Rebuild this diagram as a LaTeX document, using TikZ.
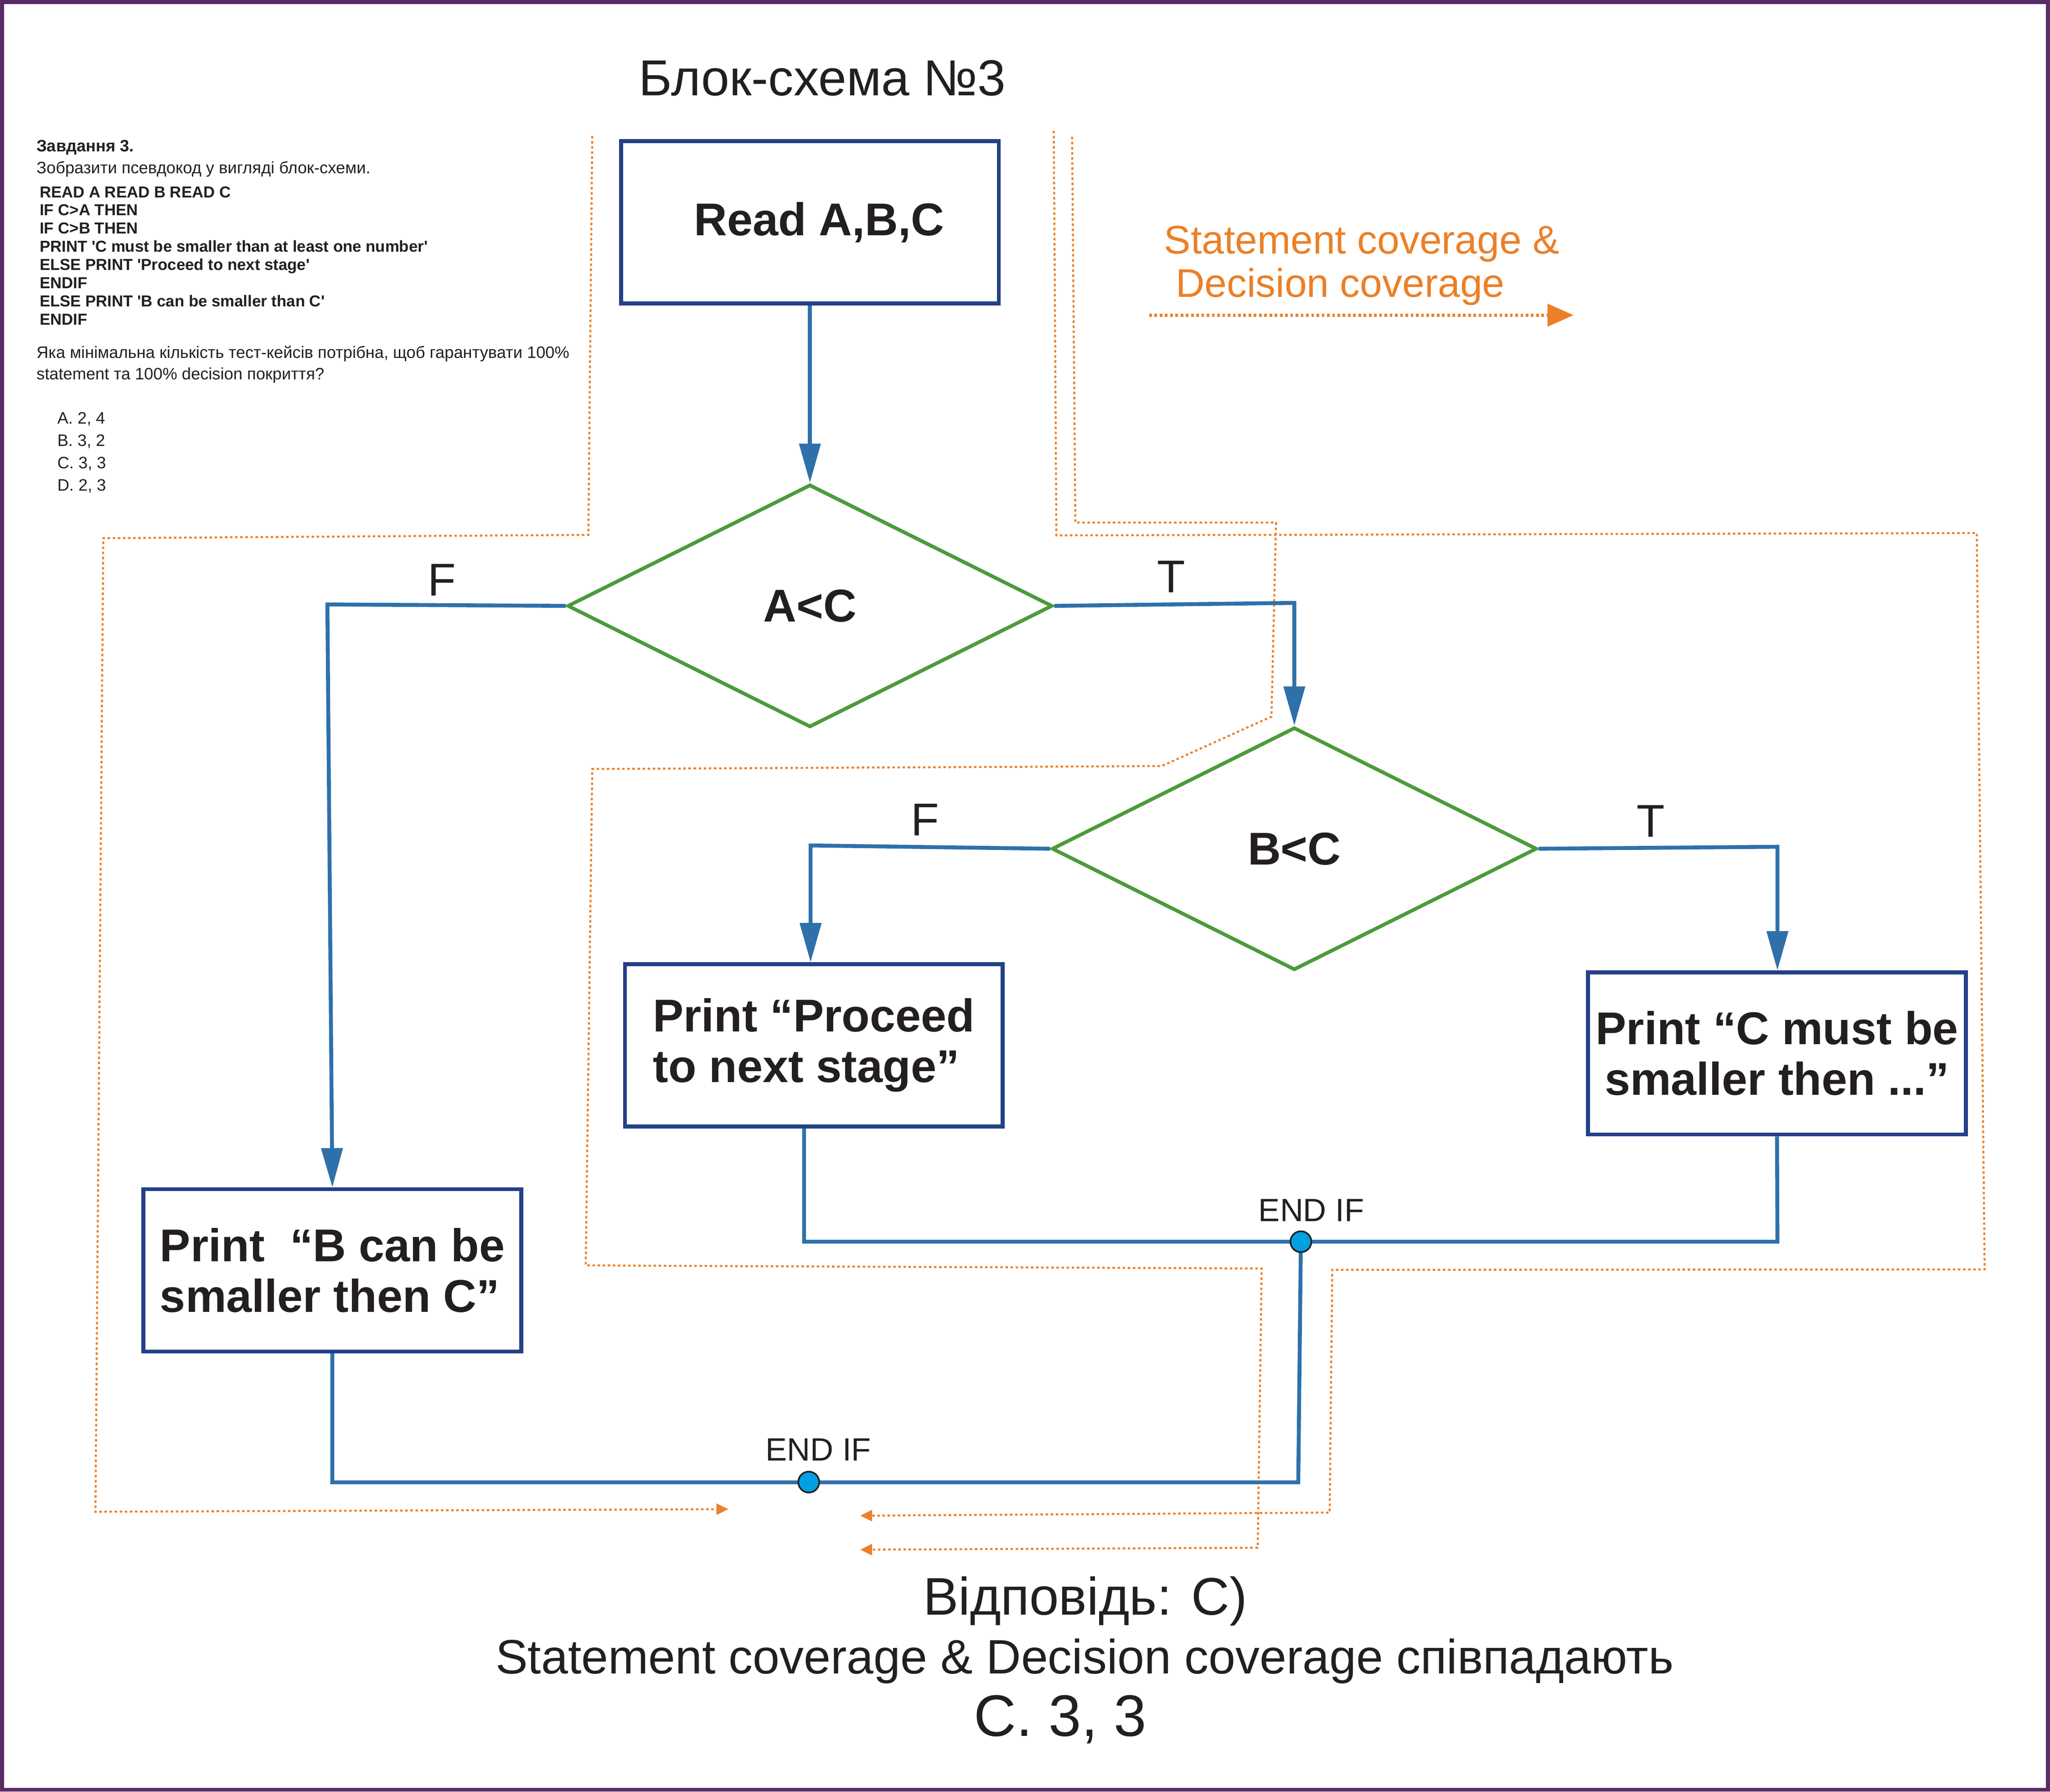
\documentclass[tikz,border=0pt]{standalone}
\usepackage{fontspec}
\setmainfont{Liberation Sans}
\usetikzlibrary{arrows.meta,shapes.geometric}
\definecolor{ink}{RGB}{35,31,32}
\definecolor{flowblue}{RGB}{46,113,170}
\definecolor{boxnavy}{RGB}{36,64,136}
\definecolor{decgreen}{RGB}{76,155,58}
\definecolor{traceorange}{RGB}{235,128,40}
\definecolor{framepurple}{RGB}{89,44,104}
\definecolor{dotcyan}{RGB}{0,160,226}
\newcommand{\fsize}[2]{\fontsize{#1}{#2}\selectfont}
\tikzset{
  box/.style={draw=boxnavy, line width=0.6mm, rectangle, minimum width=57.8mm, minimum height=24.8mm, inner sep=1pt, text=ink, font=\fsize{20}{22}\bfseries},
  decision/.style={draw=decgreen, line width=0.55mm, diamond, inner sep=0pt, minimum width=74.2mm, minimum height=37.1mm, text=ink, font=\fsize{20}{24}\bfseries},
  flow/.style={draw=flowblue, line width=0.6mm},
  flowarrow/.style={flow, -{Triangle[length=6mm,width=3.2mm]}},
  tracepath/.style={draw=traceorange, line width=0.3mm, dash pattern=on 0.38mm off 0.4mm},
  tracearrow/.style={tracepath, -{Triangle[length=1.8mm,width=1.7mm]}},
  branch/.style={text=ink, font=\fsize{20}{24}, inner sep=0pt, anchor=base},
  endlabel/.style={text=ink, font=\fsize{14}{16}, inner sep=0pt, anchor=base},
  enddot/.style={circle, draw=ink, fill=dotcyan, line width=0.25mm, minimum size=3.2mm, inner sep=0pt},
  task/.style={text=ink, font=\fsize{7.2}{8.6}, inner sep=0pt, anchor=base west},
  bigtext/.style={text=ink, inner sep=0pt, anchor=base},
}

\begin{document}
\begin{tikzpicture}[x=0.2mm, y=-0.2mm]
  %%%%% START %%%%%
  \useasboundingbox (0,0) rectangle (1568,1370);
  \draw[framepurple, line width=0.6mm] (1.5,1.5) rectangle (1566.5,1368.5);

  % title
  \node[bigtext, font=\fsize{22}{26}] (title) at (629,73.2) {Блок-схема №3};

  % task text
  \node[task, font=\fsize{7.2}{8.6}\bfseries] (taskhead) at (27.6,116) {Завдання 3.};
  \node[task] (tasksub) at (27.6,132.6) {Зобразити псевдокод у вигляді блок-схеми.};
  \foreach \txt [count=\i] in {{READ A READ B READ C}, {IF C>A THEN}, {IF C>B THEN},
      {PRINT \textquotesingle C must be smaller than at least one number\textquotesingle},
      {ELSE PRINT \textquotesingle Proceed to next stage\textquotesingle}, {ENDIF},
      {ELSE PRINT \textquotesingle B can be smaller than C\textquotesingle}, {ENDIF}}
    \node[task, font=\fsize{6.9}{8}\bfseries] (code\i) at (30,137.1+13.9*\i) {\txt};
  \node[task] (question1) at (27.6,273.9) {Яка мінімальна кількість тест-кейсів потрібна, щоб гарантувати 100\%};
  \node[task] (question2) at (27.6,290.3) {statement та 100\% decision покриття?};
  \foreach \txt [count=\i] in {{A. 2, 4}, {B. 3, 2}, {C. 3, 3}, {D. 2, 3}}
    \node[task] (option\i) at (43.5,307.2+17*\i) {\txt};

  % legend
  \node[bigtext, anchor=base west, text=traceorange, font=\fsize{17.4}{20}] (legend1) at (890,194) {Statement coverage \&};
  \node[bigtext, anchor=base west, text=traceorange, font=\fsize{17.4}{20}] (legend2) at (899,227.3) {Decision coverage};
  \coordinate (legendstart) at (879,241);
  \coordinate (legendend) at (1203.6,241);
  \draw[draw=traceorange, line width=0.5mm, dash pattern=on 0.4mm off 0.4mm, -{Triangle[length=4mm,width=3.4mm]}] (legendstart) -- (legendend);

  % orange paths
  \draw[tracearrow] (453,104) -- (450,409) -- (79,411.5) -- (73,1156) -- (557,1154);
  \draw[tracearrow] (806,100) -- (808,409.4) -- (1512,407.6) -- (1518,970.7) -- (1019,971) -- (1017,1156.6) -- (658,1159);
  \draw[tracearrow] (820,104.6) -- (822.5,399.6) -- (976,399.6) -- (972.5,548) -- (888.5,585.8) -- (453,588)
    -- (448,967.6) -- (965,970) -- (962,1183.5) -- (658,1185);

  % flowchart
  \node[box] (read) at (619.5,170) {\hspace{2.8mm}Read A,B,C};
  \node[decision] (decA) at (619.5,463.3) {A<C};
  \node[decision] (decB) at (990,649) {B<C};
  \node[box, align=left] (printB) at (254.2,971.4) {Print\ \ “B can be\\smaller then C”};
  \node[box, align=left] (printProc) at (622.5,799.3) {Print “Proceed\\to next stage”};
  \node[box, align=center] (printC) at (1359.2,805.5) {Print “C must be\\smaller then ...”};

  \coordinate (aF) at (250.4,462.2);
  \coordinate (aT) at (990,461);
  \coordinate (bF) at (620,646.5);
  \coordinate (bT) at (1359.5,647.5);
  \coordinate (mergeL) at (615,949.5);
  \coordinate (mergeR) at (1359.5,949.5);
  \coordinate (endB) at (995,949.5);
  \coordinate (dropB) at (993,1133.5);
  \coordinate (endA) at (618.6,1133.3);

  \draw[flowarrow] (read.south) -- (decA.north);
  \draw[flowarrow] (decA.west) -- (aF) -- (printB.north);
  \draw[flowarrow] (decA.east) -- (aT) -- (decB.north);
  \draw[flowarrow] (decB.west) -- (bF) -- (bF |- printProc.north);
  \draw[flowarrow] (decB.east) -- (bT) -- (bT |- printC.north);
  \draw[flow] (mergeL |- printProc.south) -- (mergeL) -- (mergeR) -- (printC.south);
  \draw[flow] (endB) -- (dropB) -- (printB.south |- dropB) -- (printB.south);
  \node[enddot] (dotB) at (endB) {};
  \node[enddot] (dotA) at (endA) {};

  \node[branch] (labelAF) at (338,455.4) {F};
  \node[branch] (labelAT) at (896,453) {T};
  \node[branch] (labelBF) at (707.4,639) {F};
  \node[branch] (labelBT) at (1262.5,640) {T};
  \node[endlabel] (endBlabel) at (1003,934) {END IF};
  \node[endlabel] (endAlabel) at (626,1117) {END IF};

  % answer
  \node[bigtext, font=\fsize{23}{28}] (answer) at (830,1234.7) {Відповідь: С)};
  \node[bigtext, font=\fsize{21}{25}] (summary) at (829.6,1279.8) {Statement coverage \& Decision coverage співпадають};
  \node[bigtext, font=\fsize{25.5}{30}] (choice) at (811,1327.5) {C. 3, 3};
  %%%%% END %%%%%
\end{tikzpicture}
\end{document}
